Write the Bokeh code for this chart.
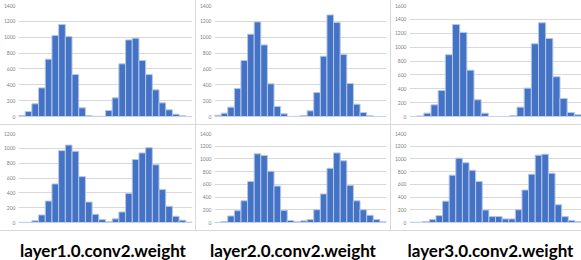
from bokeh.plotting import figure
from bokeh.layouts import column, row
from bokeh.models import Range1d, FixedTicker, Spacer, Label
from bokeh.embed import file_html
from bokeh.resources import INLINE

# ---- data (histogram counts) ----
top1 = [13, 63, 160, 361, 723, 1021, 1160, 1008, 529, 109, 13, 2, 2,
        76, 235, 664, 966, 987, 706, 529, 336, 172, 84, 29, 8, 0]
top2 = [15, 42, 118, 353, 706, 1038, 1193, 903, 412, 126, 34, 0, 2,
        13, 71, 302, 760, 1281, 1185, 781, 416, 155, 50, 8, 0, 0]
top3 = [0, 8, 48, 168, 375, 890, 1327, 1212, 668, 240, 48, 0,
        0, 0, 14, 135, 409, 1048, 1351, 1125, 572, 260, 58, 24]
bot1 = [2, 2, 22, 102, 289, 520, 969, 1044, 960, 618, 276, 111, 40,
        9, 49, 142, 391, 849, 938, 1009, 778, 444, 218, 84, 31, 5]
bot2 = [2, 15, 103, 186, 341, 646, 1080, 1054, 806, 573, 191, 31, 10,
        26, 46, 201, 449, 852, 1095, 971, 584, 341, 201, 114, 46, 10]
bot3 = [2, 3, 15, 46, 108, 336, 744, 1012, 940, 821, 646, 196, 93,
        93, 57, 57, 201, 511, 759, 1059, 1074, 775, 279, 93, 31, 15]

titles = ["layer1.0.conv2.weight", "layer2.0.conv2.weight", "layer3.0.conv2.weight"]
top_ymax = [1400, 1400, 1600]
bot_ymax = [1200, 1400, 1400]
tick_step = 200

BAR = "#4472C4"
EDGE = "#b4c7e7"
GRID = "#d9d9d9"
SEP = "#d9d9d9"

col_w = [195, 194, 190]
border_l = [16, 16, 17]
border_r = [3, 4, 0]
H_TOP, H_BOT, H_TITLE = 124, 105, 29


def panel(values, ymax, w, h, bl, br, bt, bb):
    n = len(values)
    xs = list(range(n))
    p = figure(width=w, height=h, output_backend="svg", toolbar_location=None,
               title=None,
               x_range=Range1d(-0.5, n - 0.5), y_range=Range1d(0, ymax),
               x_axis_location=None,
               min_border_left=bl, min_border_right=br,
               min_border_top=bt, min_border_bottom=bb)
    p.vbar(x=xs, top=values, width=1, fill_color=BAR, line_color=EDGE, line_width=1)
    p.xgrid.visible = False
    p.ygrid.grid_line_color = GRID
    p.ygrid.grid_line_width = 1
    p.yaxis.ticker = FixedTicker(ticks=list(range(0, ymax + 1, tick_step)))
    p.yaxis.axis_line_color = None
    p.yaxis.major_tick_line_color = None
    p.yaxis.minor_tick_line_color = None
    p.yaxis.major_tick_out = 0
    p.yaxis.major_tick_in = 0
    p.yaxis.major_label_text_font = "Lato"
    p.yaxis.major_label_text_font_size = "5px"
    p.yaxis.major_label_text_color = "#7f7f7f"
    p.yaxis.major_label_standoff = 3
    p.outline_line_color = None
    p.background_fill_color = "white"
    p.border_fill_color = "white"
    return p


def vsep(h):
    return Spacer(width=1, height=h, styles={"background-color": SEP})


def hsep(w):
    return Spacer(width=w, height=1, styles={"background-color": SEP})


tops = [top1, top2, top3]
bots = [bot1, bot2, bot3]

top_figs = [panel(tops[i], top_ymax[i], col_w[i], H_TOP, border_l[i], border_r[i], 5, 8)
            for i in range(3)]
bot_figs = [panel(bots[i], bot_ymax[i], col_w[i], H_BOT, border_l[i], border_r[i], 8, 8)
            for i in range(3)]

title_w = [195, 195, 191]
title_cx = [102.5, 97.5, 100]
title_figs = []
for i in range(3):
    t = figure(width=title_w[i], height=H_TITLE, output_backend="svg", toolbar_location=None,
               title=None,
               x_range=Range1d(0, title_w[i]), y_range=Range1d(0, H_TITLE),
               x_axis_location=None, y_axis_location=None, min_border=0)
    t.grid.visible = False
    t.outline_line_color = None
    t.add_layout(Label(x=title_cx[i], y=10,
                       text=titles[i], text_align="center", text_baseline="alphabetic",
                       text_font="Lato", text_font_style="bold", text_font_size="17px",
                       text_color="#000000"))
    title_figs.append(t)

total_w = sum(col_w) + 2
layout = column(
    row(top_figs[0], vsep(H_TOP), top_figs[1], vsep(H_TOP), top_figs[2]),
    hsep(total_w),
    row(bot_figs[0], vsep(H_BOT), bot_figs[1], vsep(H_BOT), bot_figs[2]),
    hsep(total_w),
    row(*title_figs),
)

open("out.html", "w").write(file_html(layout, INLINE))
